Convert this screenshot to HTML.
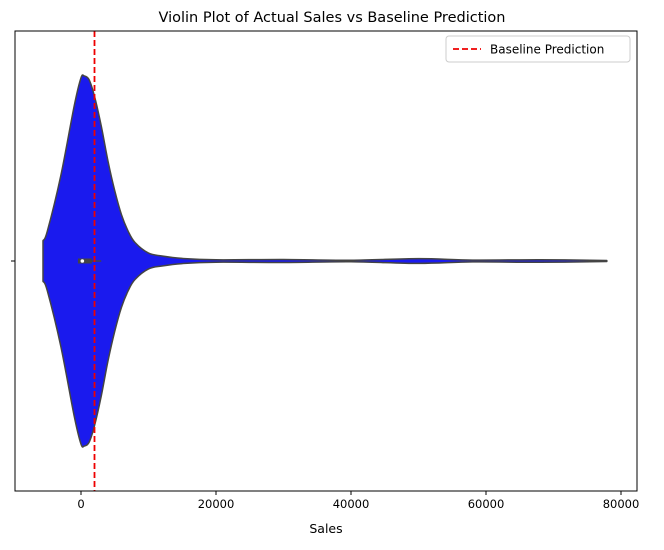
<!DOCTYPE html>
<html><head><meta charset="utf-8"><style>
body{margin:0;background:#fff;font-family:"Liberation Sans","DejaVu Sans",sans-serif}
svg text{font-family:"DejaVu Sans","Liberation Sans",sans-serif}
</style></head><body>
<svg id="c" width="664" height="545"></svg>
<script>
const densitySales=[-5630,-5000,-3000,-1000,0,500,1200,2000,3000,4000,5000,6000,7000,8000,10000,12000,15000,20000,30000,40000,50000,58000,68000,77900];
const densityValues=[0.11,0.16,0.46,0.84,0.99,1.0,0.98,0.89,0.73,0.54,0.38,0.25,0.16,0.10,0.043,0.027,0.014,0.0065,0.008,0.004,0.013,0.005,0.007,0.003];
const boxStats=[-450,200,1600,-5630,3000]; // q1, median, q3, whiskerLow, whiskerHigh
const baselineValue=[2000];
const xTicks=[0,20000,40000,60000,80000];
const NS='http://www.w3.org/2000/svg';
const svg=document.getElementById('c');
const L=15,R=637,T=31,B=491,cy=261,maxHalf=185;
const x=v=>81+v/20000*135;
const yh=d=>d*maxHalf;
function el(t,a,p){const e=document.createElementNS(NS,t);for(const k in a)e.setAttribute(k,a[k]);(p||svg).appendChild(e);return e;}
function smooth(pts){let s='M'+pts[0][0]+','+pts[0][1];for(let i=0;i<pts.length-1;i++){const p0=pts[Math.max(0,i-1)],p1=pts[i],p2=pts[i+1],p3=pts[Math.min(pts.length-1,i+2)];
 const c1x=p1[0]+(p2[0]-p0[0])/6,c1y=p1[1]+(p2[1]-p0[1])/6,c2x=p2[0]-(p3[0]-p1[0])/6,c2y=p2[1]-(p3[1]-p1[1])/6;
 s+=` C${c1x},${c1y} ${c2x},${c2y} ${p2[0]},${p2[1]}`;}return s;}
let t=el('text',{x:332,y:22,'text-anchor':'middle','font-size':14.5,fill:'#000'});t.textContent='Violin Plot of Actual Sales vs Baseline Prediction';


const upperPts=densitySales.map((s,i)=>[x(s),cy-yh(densityValues[i])]);
const lowerPts=densitySales.map((s,i)=>[x(s),cy+yh(densityValues[i])]).reverse();
let d=smooth(upperPts)+' L'+smooth(lowerPts).slice(1)+' Z';
let v=el('path',{d:d,fill:'#1a1aee',stroke:'#444','stroke-width':1.5,'stroke-linejoin':'round'});


let w=el('line',{x1:x(boxStats[0]),x2:x(boxStats[4]),y1:cy,y2:cy,stroke:'#444','stroke-width':1.5});


let b=el('rect',{x:x(boxStats[0]),y:cy-2.5,width:x(boxStats[2])-x(boxStats[0]),height:5,fill:'#444'});


let m=el('circle',{cx:x(boxStats[1]),cy:cy,r:1.8,fill:'#fff'});


let bl=el('line',{x1:x(baselineValue[0]),x2:x(baselineValue[0]),y1:T,y2:B,stroke:'#e00','stroke-width':1.8,'stroke-dasharray':'6,3'});


let fr=el('rect',{x:L,y:T,width:R-L,height:B-T,fill:'none',stroke:'#000','stroke-width':1});


xTicks.forEach(v=>{
 el('line',{x1:x(v),x2:x(v),y1:B,y2:B+4,stroke:'#000'});
 let tt=el('text',{x:x(v),y:B+17,'text-anchor':'middle','font-size':11.5});tt.textContent=v;
 
 
});
el('line',{x1:L-4,x2:L,y1:cy,y2:cy,stroke:'#000'});
let xl=el('text',{x:326,y:533,'text-anchor':'middle','font-size':12.5});xl.textContent='Sales';


let lg=el('g',{});


el('rect',{x:446,y:36,width:184,height:26,rx:3,fill:'#fff',stroke:'#ccc'},lg);
el('line',{x1:453,x2:481,y1:49,y2:49,stroke:'#e00','stroke-width':1.8,'stroke-dasharray':'6,3'},lg);
let lt=el('text',{x:490,y:53.5,'font-size':12},lg);lt.textContent='Baseline Prediction';
</script>
</body></html>
